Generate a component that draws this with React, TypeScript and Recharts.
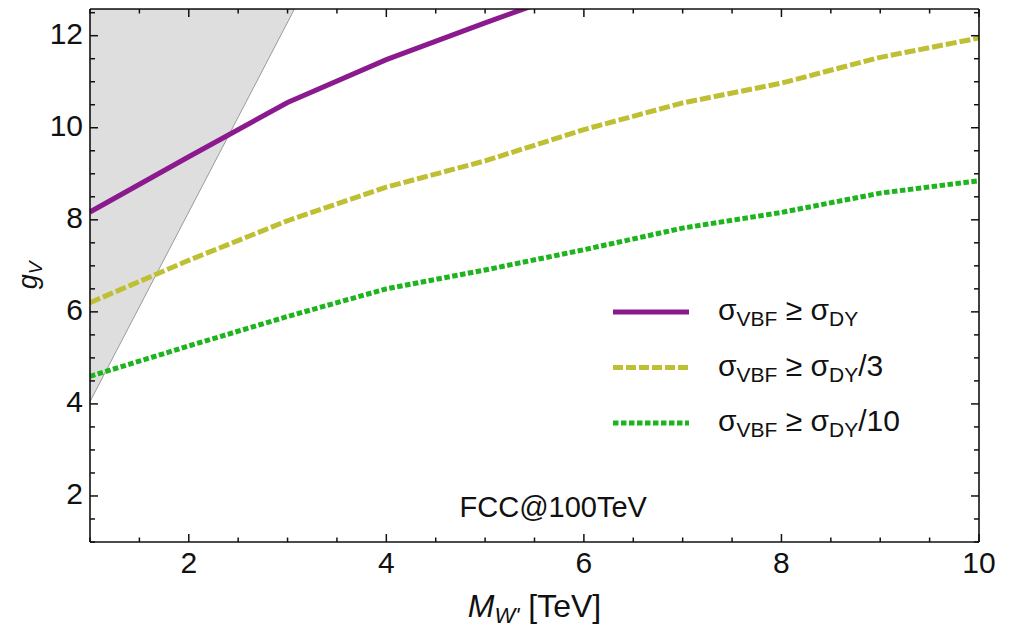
import React from "react";
import {
  ComposedChart,
  Line,
  Area,
  XAxis,
  YAxis,
  ReferenceDot,
} from "recharts";

// g_V reach vs M_W' at FCC@100TeV, Mathematica-style framed plot

const FONT = '"Liberation Sans", Arial, Helvetica, sans-serif';
const INK = "#111";

// data
const massTeV = [1, 2, 3, 4, 5, 6, 7, 8, 9, 10];
const gvDY = [8.17, 9.37, 10.55, 11.48, 12.28, 13.05, null, null, null, null];
const gvDY3 = [6.2, 7.12, 7.98, 8.71, 9.28, 9.96, 10.54, 10.97, 11.53, 11.95];
const gvDY10 = [4.6, 5.26, 5.9, 6.5, 6.91, 7.35, 7.82, 8.16, 8.58, 8.85];

// excluded (shaded) band
const bandMass = [1, 3.07];
const bandLow = [4.05, 12.58];
const bandHigh = [12.58, 12.58];

const xTicks = [1, 1.5, 2, 2.5, 3, 3.5, 4, 4.5, 5, 5.5, 6, 6.5, 7, 7.5, 8, 8.5, 9, 9.5, 10];
const yTicks = [1, 1.5, 2, 2.5, 3, 3.5, 4, 4.5, 5, 5.5, 6, 6.5, 7, 7.5, 8, 8.5, 9, 9.5, 10, 10.5, 11, 11.5, 12, 12.5];

const X_DOMAIN = [1, 10];
const Y_DOMAIN = [1, 12.58];

const rows = massTeV.map((m, i) => ({
  m,
  dy: gvDY[i],
  dy3: gvDY3[i],
  dy10: gvDY10[i],
}));

const bandRows = bandMass.map((m, i) => ({ m, band: [bandLow[i], bandHigh[i]] }));

const COLORS = {
  dy: "#8c1a8f",
  dy3: "#bfbf33",
  dy10: "#1db41d",
  band: "#dedede",
  bandEdge: "#9a9a9a",
};

const isMajor = (v: number) => Math.abs(v % 2) < 1e-6;

// ticks point inward; labels only on the even values
function BottomTick({ x, y, payload }: any) {
  const v = payload.value;
  const major = isMajor(v);
  return (
    <g>
      <line x1={x} x2={x} y1={y} y2={y - (major ? 8 : 4.5)} stroke={INK} strokeWidth={1.5} />
      {major && (
        <text x={x} y={y + 31} textAnchor="middle" fontSize={30} fontFamily={FONT} fill={INK}>
          {v}
        </text>
      )}
    </g>
  );
}

function TopTick({ x, y, payload }: any) {
  const major = isMajor(payload.value);
  return <line x1={x} x2={x} y1={y} y2={y + (major ? 8 : 4.5)} stroke={INK} strokeWidth={1.5} />;
}

function LeftTick({ x, y, payload }: any) {
  const v = payload.value;
  const major = isMajor(v);
  return (
    <g>
      <line x1={x} x2={x + (major ? 8 : 5)} y1={y} y2={y} stroke={INK} strokeWidth={1.5} />
      {major && (
        <text x={x - 7} y={y + 8.5} textAnchor="end" fontSize={30} fontFamily={FONT} fill={INK}>
          {v}
        </text>
      )}
    </g>
  );
}

function RightTick({ x, y, payload }: any) {
  const major = isMajor(payload.value);
  return <line x1={x} x2={x - (major ? 8 : 5)} y1={y} y2={y} stroke={INK} strokeWidth={1.5} />;
}

function XTitle({ viewBox }: any) {
  const cx = viewBox.x + viewBox.width / 2;
  return (
    <text x={cx} y={viewBox.y + 75} textAnchor="middle" fontSize={32} fontFamily={FONT} fill={INK}>
      <tspan fontStyle="italic">M</tspan>
      <tspan fontStyle="italic" fontSize={22} dy={6}>W'</tspan>
      <tspan dy={-6}> [TeV]</tspan>
    </text>
  );
}

function YTitle({ viewBox }: any) {
  const cy = viewBox.y + viewBox.height / 2;
  return (
    <g transform={`translate(37 ${cy}) rotate(-90)`}>
      <text x={0} y={0} textAnchor="middle" fontSize={27} fontFamily={FONT} fill={INK}>
        <tspan fontStyle="italic">g</tspan>
        <tspan fontStyle="italic" fontSize={19} dy={5}>V</tspan>
      </text>
    </g>
  );
}

const legendItems = [
  { color: COLORS.dy, dash: undefined, tail: "" },
  { color: COLORS.dy3, dash: "10 3", tail: "/3" },
  { color: COLORS.dy10, dash: "5.5 2.5", tail: "/10" },
];

function LegendBox() {
  return (
    <svg width={320} height={160} style={{ position: "absolute", left: 605, top: 290 }}>
      {legendItems.map((it, i) => {
        const ly = 22 + i * 55.5;
        return (
          <g key={i}>
            <line x1={8} x2={84} y1={ly} y2={ly} stroke={it.color} strokeWidth={5} strokeDasharray={it.dash} />
            <text x={113} y={ly + 8} fontSize={30} fontFamily={FONT} fill={INK}>
              <tspan>σ</tspan>
              <tspan fontSize={21} dy={6}>VBF</tspan>
              <tspan dy={-6}> ≥ σ</tspan>
              <tspan fontSize={21} dy={6}>DY</tspan>
              <tspan dy={-6}>{it.tail}</tspan>
            </text>
          </g>
        );
      })}
    </svg>
  );
}

function Note({ viewBox }: any) {
  return (
    <text x={viewBox.x} y={viewBox.y} textAnchor="middle" fontSize={29} fontFamily={FONT} fill={INK}>
      FCC@100TeV
    </text>
  );
}

export default function App() {
  const axisLine = { stroke: INK, strokeWidth: 1.6 };
  return (
    <div style={{ position: "absolute", left: 0, top: 0, width: 1012, height: 628, background: "#fff" }}>
      <ComposedChart width={1012} height={628} data={rows} margin={{ top: 8, right: 32, left: 0, bottom: 0 }}>
        <XAxis
          dataKey="m"
          type="number"
          domain={X_DOMAIN}
          ticks={xTicks}
          interval={0}
          allowDataOverflow
          height={86}
          tickSize={0}
          tickMargin={0}
          tickLine={false}
          axisLine={axisLine}
          tick={<BottomTick />}
          label={<XTitle />}
        />
        <XAxis
          xAxisId="top"
          orientation="top"
          dataKey="m"
          type="number"
          domain={X_DOMAIN}
          ticks={xTicks}
          interval={0}
          allowDataOverflow
          height={1}
          tickSize={0}
          tickMargin={0}
          tickLine={false}
          axisLine={axisLine}
          tick={<TopTick />}
        />
        <YAxis
          type="number"
          domain={Y_DOMAIN}
          ticks={yTicks}
          interval={0}
          allowDataOverflow
          width={90}
          tickSize={0}
          tickMargin={0}
          tickLine={false}
          axisLine={axisLine}
          tick={<LeftTick />}
          label={<YTitle />}
        />
        <YAxis
          yAxisId="right"
          orientation="right"
          type="number"
          domain={Y_DOMAIN}
          ticks={yTicks}
          interval={0}
          allowDataOverflow
          width={1}
          tickSize={0}
          tickMargin={0}
          tickLine={false}
          axisLine={axisLine}
          tick={<RightTick />}
        />

        {/* band is tied to the mirrored axes so the top/right frame gets drawn */}
        <Area
          xAxisId="top"
          yAxisId="right"
          data={bandRows}
          dataKey="band"
          type="linear"
          fill={COLORS.band}
          fillOpacity={1}
          stroke={COLORS.bandEdge}
          strokeWidth={1}
          dot={false}
          activeDot={false}
          isAnimationActive={false}
        />
        <Line
          dataKey="dy"
          type="linear"
          stroke={COLORS.dy}
          strokeWidth={5}
          dot={false}
          activeDot={false}
          isAnimationActive={false}
        />
        <Line
          dataKey="dy3"
          type="linear"
          stroke={COLORS.dy3}
          strokeWidth={5}
          strokeDasharray="11 3"
          dot={false}
          activeDot={false}
          isAnimationActive={false}
        />
        <Line
          dataKey="dy10"
          type="linear"
          stroke={COLORS.dy10}
          strokeWidth={5}
          strokeDasharray="5.5 2.5"
          dot={false}
          activeDot={false}
          isAnimationActive={false}
        />

        <ReferenceDot x={5.69} y={1.54} r={0} fill="none" stroke="none" label={<Note />} />
      </ComposedChart>
      <LegendBox />
    </div>
  );
}
